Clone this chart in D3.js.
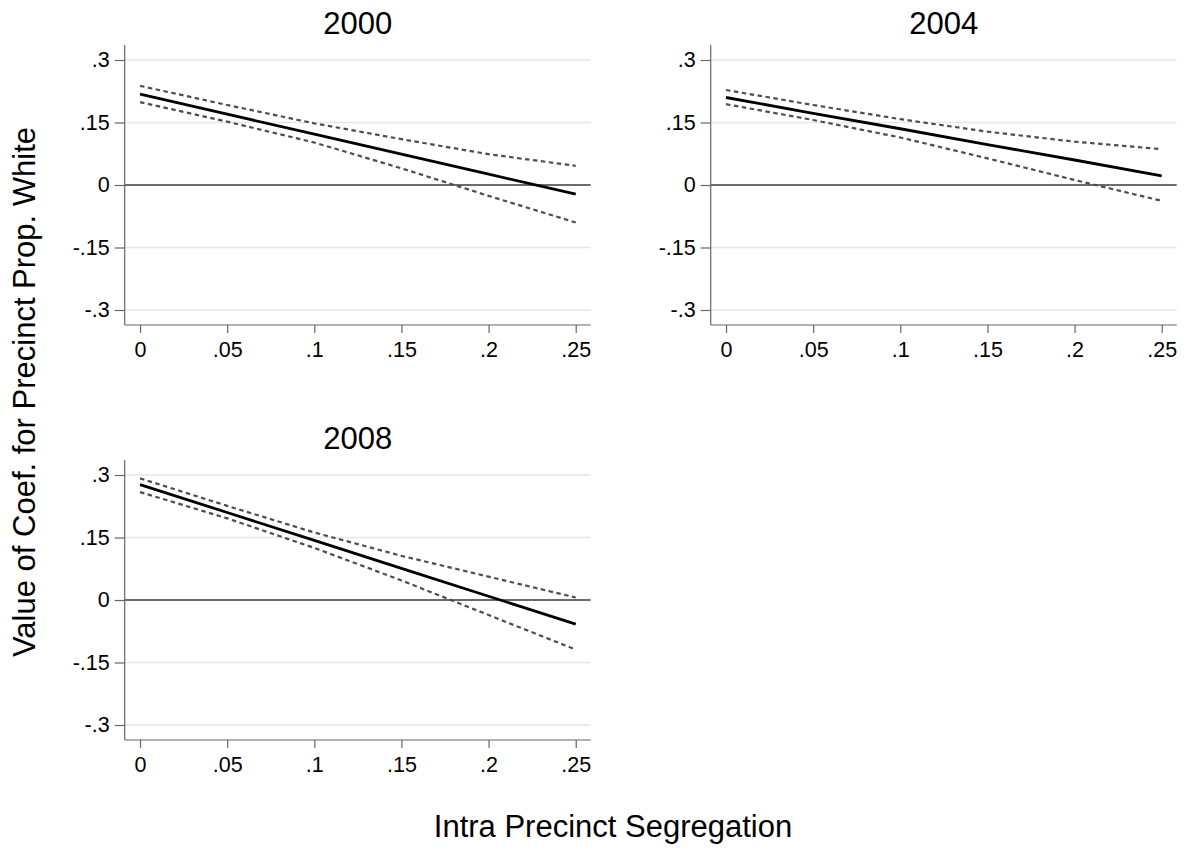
<!DOCTYPE html>
<html>
<head>
<meta charset="utf-8">
<script src="https://cdn.jsdelivr.net/npm/d3@7"></script>
<style>
    body { margin: 0; background: #fff; }
    text { font-family: "Liberation Sans", Arial, Helvetica, sans-serif; fill: #000; }
</style>
</head>
<body>
<div id="chart"></div>
<script>

// x positions (intra precinct segregation) where values were read
const segValues = [0, 0.05, 0.1, 0.15, 0.2, 0.25];
const xTickValues = [0, 0.05, 0.1, 0.15, 0.2, 0.25];
const yTickValues = [-0.3, -0.15, 0, 0.15, 0.3];
const years = ["2000", "2004", "2008"];

// marginal effect and 95% bounds, per year
const coef2000  = [0.218, 0.170, 0.122, 0.074, 0.026, -0.022];
const upper2000 = [0.238, 0.192, 0.148, 0.110, 0.074, 0.046];
const lower2000 = [0.199, 0.152, 0.102, 0.040, -0.026, -0.090];

const coef2004  = [0.210, 0.172, 0.135, 0.097, 0.060, 0.022];
const upper2004 = [0.228, 0.192, 0.158, 0.128, 0.104, 0.086];
const lower2004 = [0.194, 0.156, 0.114, 0.064, 0.012, -0.038];

const coef2008  = [0.277, 0.210, 0.143, 0.076, 0.009, -0.058];
const upper2008 = [0.292, 0.226, 0.162, 0.106, 0.056, 0.006];
const lower2008 = [0.259, 0.196, 0.125, 0.047, -0.036, -0.119];

const yearSeries = {
    "2000": [coef2000, upper2000, lower2000],
    "2004": [coef2004, upper2004, lower2004],
    "2008": [coef2008, upper2008, lower2008]
};

class PanelVis {

    constructor(svg, year, left, top) {
        this.svg = svg;
        this.year = year;
        this.left = left;
        this.top = top;
        this.initVis();
    }

    initVis() {
        let vis = this;

        vis.width = 466;
        vis.height = 280;

        vis.g = vis.svg.append("g")
            .attr("transform", `translate(${vis.left}, ${vis.top})`);

        vis.x = d3.scaleLinear()
            .domain([-0.0088, 0.2586])
            .range([0, vis.width]);

        vis.y = d3.scaleLinear()
            .domain([-0.336, 0.336])
            .range([vis.height, 0]);

        let fmt = d => d === 0 ? "0" : String(d).replace("0.", ".");

        vis.xAxis = d3.axisBottom(vis.x)
            .tickValues(xTickValues)
            .tickSize(8)
            .tickPadding(9)
            .tickFormat(fmt);

        vis.yAxis = d3.axisLeft(vis.y)
            .tickValues(yTickValues)
            .tickSize(10)
            .tickPadding(5)
            .tickFormat(fmt);

        // gridlines
        vis.g.selectAll(".grid")
            .data(yTickValues.filter(d => d !== 0))
            .enter().append("line")
            .attr("class", "grid")
            .attr("x1", 0)
            .attr("x2", vis.width)
            .attr("y1", d => vis.y(d))
            .attr("y2", d => vis.y(d))
            .attr("stroke", "#e6e6e6")
            .attr("stroke-width", 1.6);

        vis.wrangleData();
    }

    wrangleData() {
        let vis = this;
        let s = yearSeries[vis.year];
        vis.displayData = {
            coef: segValues.map((d, i) => [d, s[0][i]]),
            upper: segValues.map((d, i) => [d, s[1][i]]),
            lower: segValues.map((d, i) => [d, s[2][i]])
        };
        vis.updateVis();
    }

    updateVis() {
        let vis = this;

        // zero reference line
        vis.g.append("line")
            .attr("x1", 0)
            .attr("x2", vis.width)
            .attr("y1", vis.y(0))
            .attr("y2", vis.y(0))
            .attr("stroke", "#3a3a3a")
            .attr("stroke-width", 1.6);

        let line = d3.line()
            .x(d => vis.x(d[0]))
            .y(d => vis.y(d[1]));

        ["upper", "lower"].forEach(k => {
            vis.g.append("path")
                .datum(vis.displayData[k])
                .attr("d", line)
                .attr("fill", "none")
                .attr("stroke", "#4d4d4d")
                .attr("stroke-width", 2.2)
                .attr("stroke-dasharray", "4.5,3.5");
        });

        vis.g.append("path")
            .datum(vis.displayData.coef)
            .attr("d", line)
            .attr("fill", "none")
            .attr("stroke", "#000")
            .attr("stroke-width", 2.8);

        // axes
        let xg = vis.g.append("g")
            .attr("transform", `translate(0, ${vis.height})`)
            .call(vis.xAxis);
        let yg = vis.g.append("g").call(vis.yAxis);

        [xg, yg].forEach(a => {
            a.attr("font-size", null);
            a.select(".domain").attr("stroke", "#666").attr("stroke-width", 1.2);
            a.selectAll(".tick line").attr("stroke", "#666").attr("stroke-width", 1.2);
            a.selectAll("text").style("font-size", "21.5px").attr("fill", "#000");
        });
        xg.select(".domain").attr("d", `M0,0H${vis.width}`);
        yg.select(".domain").attr("d", `M0,0V${vis.height}`);

        // panel title
        vis.g.append("text")
            .attr("x", vis.width / 2)
            .attr("y", -11)
            .attr("text-anchor", "middle")
            .style("font-size", "31px")
            .text(vis.year);
    }
}

let svg = d3.select("#chart").append("svg")
    .attr("width", 1184)
    .attr("height", 848);

new PanelVis(svg, years[0], 124.7, 45);
new PanelVis(svg, years[1], 710.7, 45);
new PanelVis(svg, years[2], 124.7, 460);

svg.append("text")
    .attr("transform", "translate(35, 392) rotate(-90)")
    .attr("text-anchor", "middle")
    .style("font-size", "31px")
    .text("Value of Coef. for Precinct Prop. White");

svg.append("text")
    .attr("x", 613)
    .attr("y", 837)
    .attr("text-anchor", "middle")
    .style("font-size", "31px")
    .text("Intra Precinct Segregation");

</script>
</body>
</html>
